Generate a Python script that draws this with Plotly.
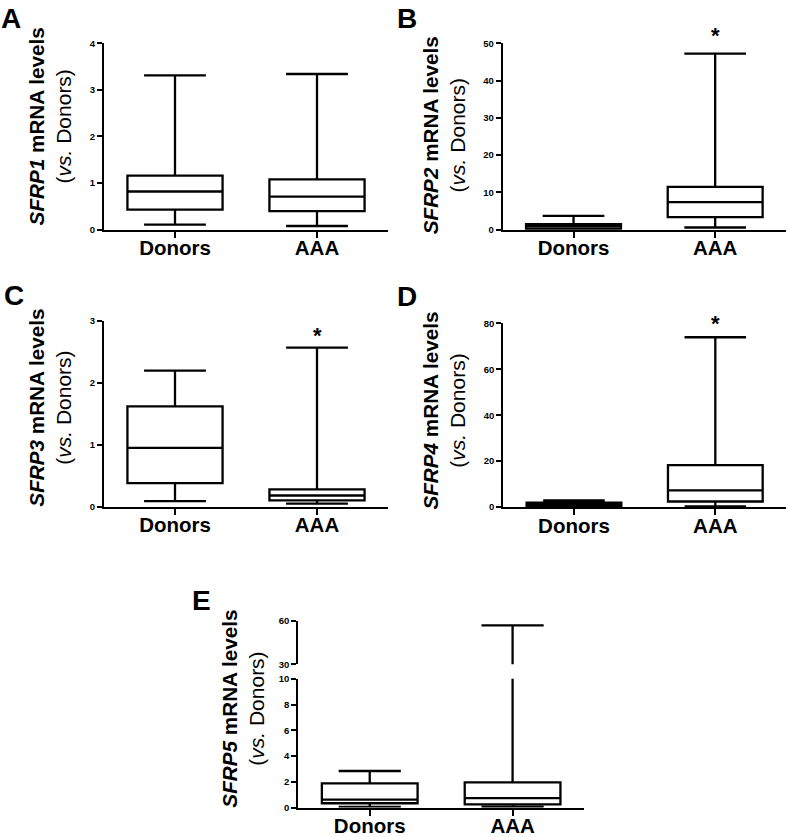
import plotly.graph_objects as go

W, H = 787, 837

categories = ["Donors", "AAA"]

# SFRP1
sfrp1_upper = [3.31, 3.34]
sfrp1_q3 = [1.16, 1.08]
sfrp1_median = [0.82, 0.71]
sfrp1_q1 = [0.43, 0.40]
sfrp1_lower = [0.11, 0.08]

# SFRP2
sfrp2_upper = [3.7, 47.2]
sfrp2_q3 = [1.5, 11.5]
sfrp2_median = [0.9, 7.4]
sfrp2_q1 = [0.2, 3.4]
sfrp2_lower = [0.05, 0.6]

# SFRP3
sfrp3_upper = [2.20, 2.57]
sfrp3_q3 = [1.62, 0.28]
sfrp3_median = [0.95, 0.18]
sfrp3_q1 = [0.38, 0.10]
sfrp3_lower = [0.09, 0.05]

# SFRP4
sfrp4_upper = [2.9, 74.0]
sfrp4_q3 = [1.9, 18.3]
sfrp4_median = [1.0, 7.3]
sfrp4_q1 = [0.4, 2.4]
sfrp4_lower = [0.1, 0.3]

# SFRP5
sfrp5_upper = [2.84, 57.0]
sfrp5_q3 = [1.88, 1.96]
sfrp5_median = [0.62, 0.74]
sfrp5_q1 = [0.34, 0.25]
sfrp5_lower = [0.06, 0.05]

FONT = "Liberation Sans, Arial, sans-serif"


def px_x(p):
    return p / W


def px_y(p):
    return 1 - p / H


fig = go.Figure()


def add_box(xa, ya, upper, q3, med, q1, lower):
    fig.add_trace(go.Box(
        x=categories, q1=q1, median=med, q3=q3,
        lowerfence=lower, upperfence=upper,
        xaxis=xa, yaxis=ya,
        width=0.67, whiskerwidth=0.65,
        fillcolor="white",
        line=dict(color="black", width=2.3),
        boxpoints=False, showlegend=False, hoverinfo="skip",
    ))


def axis_pair(n, x0, x1, y0, y1, yrange, tickvals, show_x=True):
    xkey = "xaxis" if n == 1 else f"xaxis{n}"
    ykey = "yaxis" if n == 1 else f"yaxis{n}"
    yname = "y" if n == 1 else f"y{n}"
    xname = "x" if n == 1 else f"x{n}"
    fig.layout[xkey] = dict(
        domain=[px_x(x0), px_x(x1)], anchor=yname,
        type="category", categoryorder="array", categoryarray=categories,
        range=[-0.5, 1.5],
        showline=show_x, linecolor="black", linewidth=2,
        ticks="outside" if show_x else "", ticklen=6, tickwidth=2, tickcolor="black",
        showticklabels=show_x, ticklabelstandoff=-7,
        tickfont=dict(family=FONT, size=20.5, color="black", weight="bold"),
        showgrid=False, zeroline=False, fixedrange=True,
    )
    fig.layout[ykey] = dict(
        domain=[px_y(y1), px_y(y0)], anchor=xname,
        range=yrange,
        tickmode="array", tickvals=tickvals,
        showline=True, linecolor="black", linewidth=2,
        ticks="outside", ticklen=5, tickwidth=2, tickcolor="black",
        tickfont=dict(family=FONT, size=9.5, color="black", weight="bold"),
        showgrid=False, zeroline=False, fixedrange=True,
    )


# Panel A
axis_pair(1, 104, 388, 37.7, 226.7, [0, 4], [0, 1, 2, 3, 4])
add_box("x", "y", sfrp1_upper, sfrp1_q3, sfrp1_median, sfrp1_q1, sfrp1_lower)
# Panel B
axis_pair(2, 502.7, 786, 37.7, 226.7, [0, 50], [0, 10, 20, 30, 40, 50])
add_box("x2", "y2", sfrp2_upper, sfrp2_q3, sfrp2_median, sfrp2_q1, sfrp2_lower)
# Panel C
axis_pair(3, 104, 388, 319.3, 507.3, [0, 3], [0, 1, 2, 3])
add_box("x3", "y3", sfrp3_upper, sfrp3_q3, sfrp3_median, sfrp3_q1, sfrp3_lower)
# Panel D
axis_pair(4, 503.3, 786, 321.7, 507.7, [0, 80], [0, 20, 40, 60, 80])
add_box("x4", "y4", sfrp4_upper, sfrp4_q3, sfrp4_median, sfrp4_q1, sfrp4_lower)
# Panel E (broken axis: lower 0-10, upper 30-60)
axis_pair(5, 298.3, 584, 681.7, 812.3, [0, 10], [0, 2, 4, 6, 8, 10])
add_box("x5", "y5", sfrp5_upper, sfrp5_q3, sfrp5_median, sfrp5_q1, sfrp5_lower)
axis_pair(6, 298.3, 584, 623.3, 667, [30, 60], [30, 60], show_x=False)
add_box("x6", "y6", sfrp5_upper, sfrp5_q3, sfrp5_median, sfrp5_q1, sfrp5_lower)

annotations = []


def title(gene, cx, cy):
    annotations.append(dict(
        text=(f"<b><i>{gene}</i> mRNA levels</b><br>"
              f"<span style='font-size:21px'>(<i>vs.</i> Donors)</span>"),
        xref="paper", yref="paper", x=px_x(cx), y=px_y(cy),
        xanchor="center", yanchor="middle", textangle=-90,
        showarrow=False, font=dict(family=FONT, size=20.7, color="black"),
    ))


title("SFRP1", 50, 122)
title("SFRP2", 444, 131)
title("SFRP3", 50, 407)
title("SFRP4", 444, 410)
title("SFRP5", 243, 712)


def letter(t, x, y):
    annotations.append(dict(
        text=f"<b>{t}</b>", xref="paper", yref="paper",
        x=px_x(x), y=px_y(y), xanchor="left", yanchor="top",
        showarrow=False, font=dict(family=FONT, size=28, color="black"),
    ))


letter("A", -1, -5)
letter("B", 395, -5)
letter("C", 2, 276)
letter("D", 395, 277)
letter("E", 190, 585)


def star(x, y):
    annotations.append(dict(
        text="<b>*</b>", xref="paper", yref="paper",
        x=px_x(x), y=px_y(y), xanchor="center", yanchor="middle",
        showarrow=False, font=dict(family=FONT, size=22, color="black"),
    ))


star(715, 30)
star(317, 334)
star(715, 322)

fig.update_layout(
    width=W, height=H,
    margin=dict(l=0, r=0, t=0, b=0),
    paper_bgcolor="white", plot_bgcolor="white",
    annotations=annotations,
    showlegend=False,
)

fig.write_html(
    "out.html",
    config={"displayModeBar": False},
    post_script="document.body.style.margin='0';document.body.style.overflow='hidden';",
)
